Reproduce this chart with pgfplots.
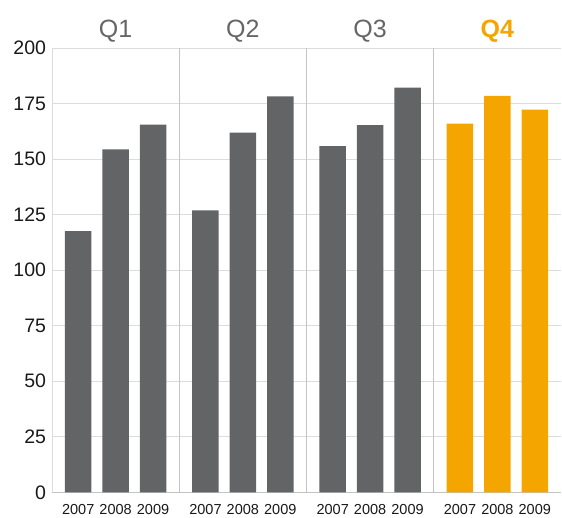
\documentclass[border=0pt]{standalone}
\usepackage{fontspec}
\setmainfont{Liberation Sans}
\usepackage{pgfplots}
\pgfplotsset{compat=1.18}
\definecolor{bargray}{HTML}{636466}
\definecolor{barorange}{HTML}{F5A500}
\definecolor{gridc}{HTML}{DCDCDC}
\definecolor{sepc}{HTML}{C4C4C4}
\definecolor{qgray}{HTML}{666666}
\begin{document}
\begin{tikzpicture}
\begin{axis}[
  scale only axis, width=509pt, height=444.3pt,
  xmin=-0.7, xmax=12.9, ymin=0, ymax=200,
  ytick={0,25,...,200},
  ymajorgrids,
  major grid style={gridc, line width=0.8pt},
  xtick={0,1,2,3.4,4.4,5.4,6.8,7.8,8.8,10.2,11.2,12.2},
  xticklabels={2007,2008,2009,2007,2008,2009,2007,2008,2009,2007,2008,2009},
  extra x ticks={2.7,6.1,9.5},
  extra x tick labels={},
  extra x tick style={grid=major, major grid style={sepc, line width=0.8pt}},
  axis x line*=bottom, axis y line*=left,
  x axis line style={-, sepc, line width=0.9pt},
  y axis line style={-, gridc, line width=0.9pt},
  major tick length=0pt,
  /pgf/number format/assume math mode=true,
  yticklabel style={font=\fontsize{19.5}{21}\selectfont, text=black!90, xshift=-2.5pt},
  xticklabel style={font=\fontsize{14.5}{16}\selectfont, text=black!90, yshift=-9pt},
  clip=false,
]
\addplot[ybar, bar width=0.71, bar shift=0pt, fill=bargray, draw=none] coordinates {
  (0,117.6) (1,154.4) (2,165.5)
  (3.4,126.9) (4.4,161.9) (5.4,178.2)
  (6.8,155.8) (7.8,165.3) (8.8,182.2)};
\addplot[ybar, bar width=0.71, bar shift=0pt, fill=barorange, draw=none] coordinates {
  (10.2,166) (11.2,178.4) (12.2,172.2)};
\node[anchor=base, font=\fontsize{25}{28}\selectfont, text=qgray] at (axis cs:1,200) [yshift=10.5pt] {Q1};
\node[anchor=base, font=\fontsize{25}{28}\selectfont, text=qgray] at (axis cs:4.4,200) [yshift=10.5pt] {Q2};
\node[anchor=base, font=\fontsize{25}{28}\selectfont, text=qgray] at (axis cs:7.8,200) [yshift=10.5pt] {Q3};
\node[anchor=base, font=\fontsize{25}{28}\selectfont\bfseries, text=barorange] at (axis cs:11.2,200) [yshift=10.5pt] {Q4};
\coordinate (bl) at (rel axis cs:0,0);
\coordinate (tr) at (rel axis cs:1,1);
\end{axis}
\pgfresetboundingbox
\path ([xshift=-52pt,yshift=-25.7pt]bl) rectangle ([xshift=1pt,yshift=48pt]tr);
\end{tikzpicture}
\end{document}
